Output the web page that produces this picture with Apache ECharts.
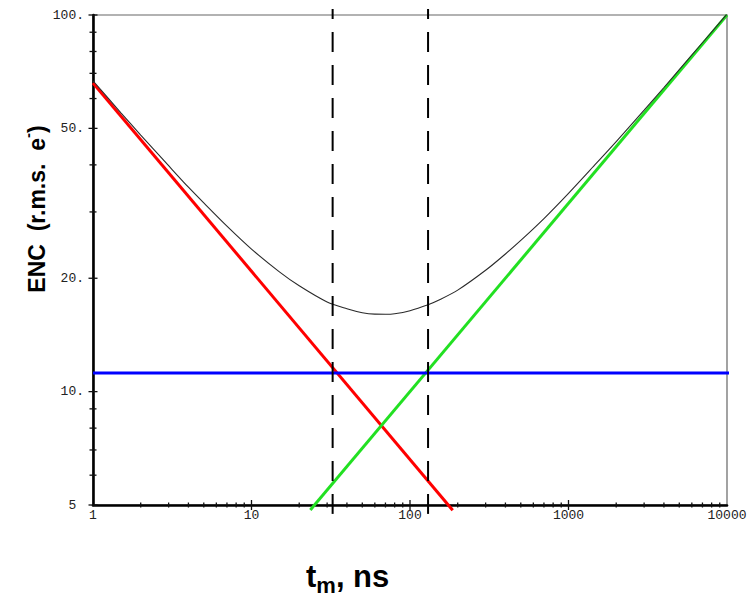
<!DOCTYPE html>
<html>
<head>
<meta charset="utf-8">
<script src="https://cdn.jsdelivr.net/npm/echarts@6/dist/echarts.min.js"></script>
<style>
  html, body { margin: 0; padding: 0; background: #fff; }
  #chart { width: 753px; height: 600px; }
</style>
</head>
<body>
<div id="chart"></div>
<script>
// Shaping time (ns) and equivalent noise charge (r.m.s. electrons)
const tm = [1, 1.5, 2, 3, 4, 5, 7, 10, 15, 20, 30, 40, 50, 60, 70, 80, 100, 130, 150,
            200, 300, 400, 500, 700, 1000, 1500, 2000, 3000, 4000, 5000, 7000, 10000];
const encTotal = [66.9, 55.0, 48.0, 39.8, 34.9, 31.7, 27.5, 23.9, 20.8, 19.1, 17.3, 16.6, 16.2, 16.06, 16.05, 16.1,
                  16.4, 17.0, 17.45, 18.6, 21.0, 23.2, 25.2, 28.8, 33.6, 40.4, 46.1, 55.9, 64.2, 71.6, 84.4, 100.6];

// Series (voltage) noise: falls with shaping time
const seriesNoiseT = [1, 186];
const seriesNoiseEnc = [66, 4.84];
// Parallel (current) noise: rises with shaping time
const parallelNoiseT = [23.5, 10000];
const parallelNoiseEnc = [4.85, 100];
// 1/f noise: independent of shaping time
const flickerNoiseT = [1, 10300];
const flickerNoiseEnc = [11.2, 11.2];
// Corner times where 1/f noise meets the other two terms
const cornerTimes = [32.5, 130];

// Axis ranges and ticks
const xRange = [1, 10000];
const yRange = [5, 100];
const xLabelValues = [1, 10, 100, 1000, 10000];
const yLabelValues = [5, 10, 20, 50, 100];
const xMajorTicks = [10, 100, 1000];
const xMinorTicks = [2, 3, 4, 5, 6, 7, 8, 9, 20, 30, 40, 50, 60, 70, 80, 90,
                     200, 300, 400, 500, 600, 700, 800, 900, 2000, 3000, 4000, 5000, 6000, 7000, 8000, 9000];
const yMajorTicks = [5, 10, 20, 50, 100];
const yMinorTicks = [6, 7, 8, 9, 30, 40, 60, 70, 80, 90];

const pairs = (xs, ys) => xs.map((x, i) => [x, ys[i]]);

// Small crossing tick marks drawn through the axis scales
function tickSeries(values, onX, half) {
  return {
    type: 'custom',
    silent: true,
    clip: false,
    z: 5,
    data: values.map(v => onX ? [v, yRange[0]] : [xRange[0], v]),
    encode: { x: 0, y: 1 },
    renderItem: function (params, api) {
      const p = api.coord([api.value(0), api.value(1)]);
      const shape = onX
        ? { x1: p[0], y1: p[1] - half, x2: p[0], y2: p[1] + half }
        : { x1: p[0] - half, y1: p[1], x2: p[0] + half, y2: p[1] };
      return { type: 'line', shape: shape, style: { stroke: '#111', lineWidth: 1.3 } };
    }
  };
}

const chart = echarts.init(document.getElementById('chart'), null, { renderer: 'svg' });

const labelFont = { fontFamily: '"Liberation Mono", monospace', fontSize: 13, color: '#222' };

chart.setOption({
  animation: false,
  backgroundColor: '#fff',
  grid: {
    left: 93, right: 26, top: 15, bottom: 95,
    show: true, borderColor: '#666', borderWidth: 1.2, backgroundColor: 'transparent'
  },
  xAxis: {
    type: 'log', logBase: 10, min: xRange[0], max: xRange[1],
    axisLine: { show: true, onZero: false, lineStyle: { color: '#000', width: 2.6 } },
    axisTick: { show: false },
    minorTick: { show: false },
    splitLine: { show: false },
    axisLabel: Object.assign({
      margin: 4,
      customValues: xLabelValues,
      showMinLabel: true, showMaxLabel: true,
      formatter: v => String(Math.round(v))
    }, labelFont)
  },
  yAxis: {
    type: 'log', logBase: 10, min: yRange[0], max: yRange[1],
    axisLine: { show: true, onZero: false, lineStyle: { color: '#000', width: 2.6 } },
    axisTick: { show: false },
    minorTick: { show: false },
    splitLine: { show: false },
    axisLabel: Object.assign({
      margin: 9,
      customValues: yLabelValues,
      showMinLabel: true, showMaxLabel: true,
      formatter: v => { const r = Math.round(v); return r === 5 ? '5 ' : r + '.'; }
    }, labelFont)
  },
  graphic: [
    {
      type: 'text', left: 306, top: 561, z: 10,
      style: {
        text: '{a|t}{s|m}{a|, ns}',
        rich: {
          a: { font: 'bold 31px "Liberation Sans", Arial, sans-serif', fill: '#000', lineHeight: 36, verticalAlign: 'bottom' },
          s: { font: 'bold 22px "Liberation Sans", Arial, sans-serif', fill: '#000', lineHeight: 25, verticalAlign: 'bottom', padding: [0, 0, -4, 0] }
        }
      }
    },
    {
      type: 'text', x: 34, y: 209, rotation: Math.PI / 2, z: 10,
      style: {
        text: '{a|ENC  (r.m.s.  e}{p|-}{a|)}',
        align: 'center', verticalAlign: 'middle',
        rich: {
          a: { font: 'bold 23px "Liberation Sans", Arial, sans-serif', fill: '#000', lineHeight: 28, verticalAlign: 'bottom' },
          p: { font: 'bold 15px "Liberation Sans", Arial, sans-serif', fill: '#000', lineHeight: 28, verticalAlign: 'top' }
        }
      }
    }
  ],
  series: [
    {
      name: 'ENC total', type: 'line', data: pairs(tm, encTotal),
      showSymbol: false, smooth: 0.3, z: 3,
      lineStyle: { color: '#2a2a2a', width: 1.1 }
    },
    {
      name: 'series noise', type: 'line', data: pairs(seriesNoiseT, seriesNoiseEnc),
      showSymbol: false, clip: false, z: 2,
      lineStyle: { color: '#ff0000', width: 3 }
    },
    {
      name: 'parallel noise', type: 'line', data: pairs(parallelNoiseT, parallelNoiseEnc),
      showSymbol: false, clip: false, z: 2,
      lineStyle: { color: '#22e022', width: 3 }
    },
    {
      name: '1/f noise', type: 'line', data: pairs(flickerNoiseT, flickerNoiseEnc),
      showSymbol: false, clip: false, z: 2,
      lineStyle: { color: '#0000ff', width: 3 }
    }
  ].concat(cornerTimes.map(t => ({
    name: 'corner ' + t, type: 'line',
    data: [[t, 103.8], [t, 4.72]],
    showSymbol: false, clip: false, z: 4,
    lineStyle: { color: '#000', width: 2, type: [20, 13], dashOffset: 10 }
  }))).concat([
    tickSeries(xMajorTicks, true, 5),
    tickSeries(xMinorTicks, true, 2.5),
    tickSeries(yMajorTicks, false, 4.5),
    tickSeries(yMinorTicks, false, 3.5)
  ])
});
</script>
</body>
</html>
